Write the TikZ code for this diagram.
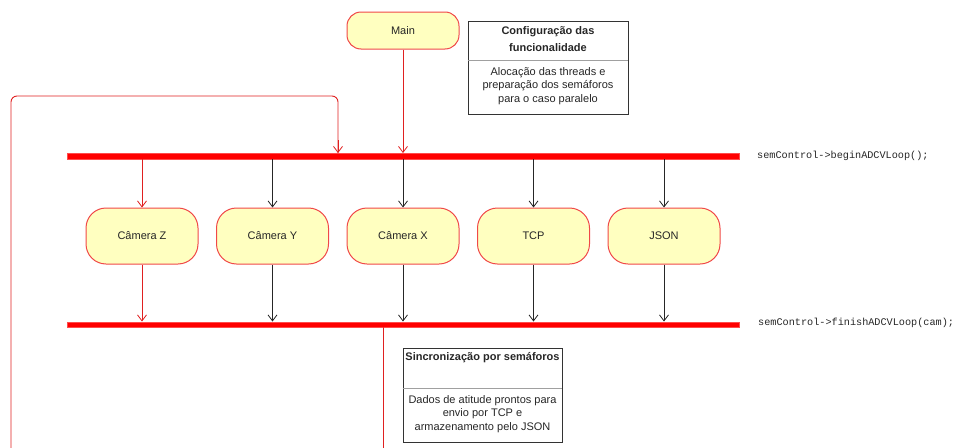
\documentclass[tikz,border=0pt]{standalone}
\usepackage{fontspec}
\setmainfont{Liberation Sans}
\newfontfamily\codefont{Liberation Mono}
\usetikzlibrary{arrows.meta,calc}
\definecolor{actfill}{HTML}{FFFFC0}
\definecolor{actline}{HTML}{F04848}
\definecolor{txt}{HTML}{262626}
\definecolor{divline}{HTML}{A0A0A0}
\definecolor{flowr}{HTML}{E02020}
\tikzset{
  actbox/.style={draw=actline, line width=1pt, fill=actfill, text=txt,
    font=\fontsize{11pt}{13pt}\selectfont, minimum width=112pt},
  cambox/.style={actbox, minimum height=56pt, rounded corners=20pt},
  syncbar/.style={fill=red, draw=red!70, line width=0.4pt, minimum height=5.5pt,
    minimum width=672pt, inner sep=0pt},
  arr/.style={-{Straight Barb[length=6pt,width=9pt]}, line width=0.8pt},
  flowblack/.style={arr, draw=black!85},
  flowred/.style={arr, draw=flowr},
  loopline/.style={draw=flowr, line width=0.9pt, rounded corners=6pt},
  notebox/.style={draw=black!80, line width=0.9pt},
  notetitle/.style={font=\bfseries\fontsize{11pt}{17pt}\selectfont, align=center, text=txt},
  notebody/.style={font=\fontsize{11pt}{13.5pt}\selectfont, align=center, text=txt},
  codelabel/.style={font=\codefont\fontsize{10.2pt}{12pt}\selectfont, anchor=west, text=txt, inner sep=0pt}
}
\begin{document}
\begin{tikzpicture}[x=1pt,y=-1pt]
\useasboundingbox (0,0) rectangle (955,447);
\clip (0,0) rectangle (955,447);

% entry activity
\node[actbox, minimum height=37pt, rounded corners=14pt] (main) at (403,30.5) {Main};

% fork and join bars
\node[syncbar] (fork) at (403,156) {};
\node[syncbar] (join) at (403,324.5) {};

% parallel activities
\node[cambox] (camz) at (142,236) {Câmera Z};
\node[cambox] (camy) at (272.5,236) {Câmera Y};
\node[cambox] (camx) at (403,236) {Câmera X};
\node[cambox] (tcp)  at (533.5,236) {TCP};
\node[cambox] (json) at (664,236) {JSON};

% code labels of the bars
\node[codelabel] (beginlbl) at (757,156) {semControl->beginADCVLoop();};
\node[codelabel] (finishlbl) at (758,323) {semControl->finishADCVLoop(cam);};

% main into the fork
\draw[flowred] (main.south) -- (main.south |- fork.north);

% fork into each activity, each activity into the join
\draw[flowred] (camz.north |- fork.south) -- (camz.north);
\draw[flowred] (camz.south) -- (camz.south |- join.north);
\foreach \n in {camy,camx,tcp,json}{
  \draw[flowblack] (\n.north |- fork.south) -- (\n.north);
  \draw[flowblack] (\n.south) -- (\n.south |- join.north);
}

% loop back from the join to the fork
\coordinate (loopout) at (383.5,324.5);
\coordinate (loopbr) at (383.5,470);
\coordinate (loopbl) at (11,470);
\coordinate (looptl) at (11,96);
\coordinate (looptr) at (338,96);
\coordinate (loopin) at (338,156);
\draw[loopline] (loopout |- join.south) -- (loopbr) -- (loopbl) -- (looptl) -- (looptr) -- (loopin |- fork.north);
\draw[flowred] (338,140) -- (loopin |- fork.north);

% note: configuration
\node[notebox, minimum width=160pt, minimum height=93pt, inner sep=0pt] (cfg) at (548,67.5) {};
\draw[divline, line width=0.7pt] (cfg.west |- 0,60) -- (cfg.east |- 0,60);
\node[notetitle] (cfgtitle) at (548,39) {Configuração das\\funcionalidade};
\node[notebody] (cfgbody) at (548,86) {Alocação das threads e\\preparação dos semáforos\\para o caso paralelo};

% note: synchronisation
\node[notebox, minimum width=159pt, minimum height=94pt, inner sep=0pt] (sync) at (482.5,395) {};
\draw[divline, line width=0.7pt] (sync.west |- 0,388) -- (sync.east |- 0,388);
\node[notetitle] (synctitle) at (482.5,358) {Sincronização por semáforos};
\node[notebody] (syncbody) at (482.5,414) {Dados de atitude prontos para\\envio por TCP e\\armazenamento pelo JSON};
\end{tikzpicture}
\end{document}
